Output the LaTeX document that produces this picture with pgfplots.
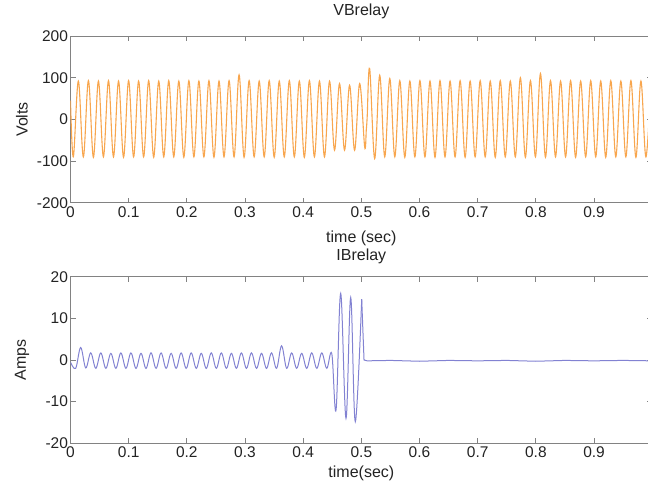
\documentclass[border=0pt]{standalone}
\usepackage{fontspec}
\setmainfont{Liberation Sans}
\usepackage{pgfplots}
\pgfplotsset{compat=1.18}
\definecolor{vorange}{RGB}{248,166,78}
\definecolor{iblue}{RGB}{130,130,210}
\definecolor{axgray}{RGB}{130,130,130}
\definecolor{txt}{RGB}{35,35,35}
\newcommand{\ticklab}{\fontsize{15.5}{17}\selectfont}
\newcommand{\lab}{\fontsize{16}{18}\selectfont}

\pgfplotsset{relay/.style={
    scale only axis, width=581.7pt, height=166.6pt,
    xmin=0, xmax=1,
    xtick={0,0.1,0.2,0.3,0.4,0.5,0.6,0.7,0.8,0.9},
    xticklabels={0,0.1,0.2,0.3,0.4,0.5,0.6,0.7,0.8,0.9},
    tick align=inside, major tick length=5pt,
    axis line style={axgray, line width=0.8pt},
    major tick style={axgray, line width=0.8pt},
    tick label style={font=\ticklab, text=txt},
    xticklabel style={yshift=0pt},
    yticklabel style={xshift=1pt},
    label style={font=\lab, text=txt},
    title style={font=\lab, text=txt, at={(0.5,1)}, anchor=base},
    ylabel style={at={(-48.5pt,0.5)}, anchor=center, rotate=0},
}}

\begin{document}
\begin{tikzpicture}[x=1pt,y=1pt]

% ---- VBrelay ----
\begin{axis}[relay, at={(70.5pt,282.3pt)}, anchor=south west,
    ymin=-200, ymax=200, ytick={-200,-100,0,100,200},
    yticklabels={-200,-100,0,100,200},
    title={VBrelay}, title style={yshift=15pt},
    xlabel={time (sec)}, xlabel style={at={(0.5,0)}, anchor=center, yshift=-36pt},
    ylabel={Volts}]
\addplot[vorange, line width=1.1pt, smooth, tension=0.6] coordinates {
(0,45)(0.0049,-90)
(0.0135,92)(0.0221,-90)(0.0308,93)(0.0394,-91)(0.0480,92)(0.0566,-90)
(0.0653,93)(0.0739,-90)(0.0826,92)(0.0912,-91)(0.0999,93)(0.1085,-90)
(0.1171,92)(0.1257,-90)(0.1344,93)(0.1430,-91)(0.1517,92)(0.1603,-90)
(0.1689,93)(0.1775,-90)(0.1862,92)(0.1948,-91)(0.2035,93)(0.2121,-90)
(0.2207,92)(0.2293,-90)(0.2380,93)(0.2466,-91)(0.2553,92)(0.2639,-90)
(0.2726,93)(0.2812,-90)(0.2898,107)(0.2984,-91)(0.3071,93)(0.3157,-90)
(0.3244,92)(0.3330,-90)(0.3416,93)(0.3502,-91)(0.3589,92)(0.3675,-90)
(0.3762,93)(0.3848,-90)(0.3934,92)(0.4020,-91)(0.4107,93)(0.4193,-90)
(0.4280,92)(0.4366,-90)(0.4453,92)(0.4539,-74)(0.4625,86)(0.4711,-74)
(0.4798,82)(0.4884,-74)(0.4971,86)(0.5057,-66)(0.5085,-25)(0.5100,5)
(0.5143,122)(0.5229,-94)(0.5316,106)(0.5402,-90)(0.5489,98)(0.5575,-90)
(0.5661,93)(0.5747,-91)(0.5834,92)(0.5920,-90)(0.6007,93)(0.6093,-90)
(0.6180,92)(0.6266,-91)(0.6352,93)(0.6438,-90)(0.6525,92)(0.6611,-90)
(0.6698,93)(0.6784,-91)(0.6870,92)(0.6956,-90)(0.7043,93)(0.7129,-90)
(0.7216,92)(0.7302,-91)(0.7388,93)(0.7474,-90)(0.7561,92)(0.7647,-90)
(0.7734,100)(0.7820,-91)(0.7907,93)(0.7993,-90)(0.8079,110)(0.8165,-91)
(0.8252,93)(0.8338,-90)(0.8425,92)(0.8511,-90)(0.8597,93)(0.8683,-91)
(0.8770,92)(0.8856,-90)(0.8943,93)(0.9029,-90)(0.9115,92)(0.9201,-91)
(0.9288,93)(0.9374,-90)(0.9461,92)(0.9547,-90)(0.9634,93)(0.9720,-91)
(0.9806,92)(0.9892,-90)(0.9979,93)
};
\end{axis}

% ---- IBrelay ----
\begin{axis}[relay, at={(70.5pt,41.7pt)}, anchor=south west,
    ymin=-20, ymax=20, ytick={-20,-10,0,10,20},
    yticklabels={-20,-10,0,10,20},
    title={IBrelay}, title style={yshift=10pt},
    xlabel={time(sec)}, xlabel style={at={(0.5,0)}, anchor=center, yshift=-30pt},
    ylabel={Amps}]
\addplot[iblue, line width=1pt, smooth, tension=0.6] coordinates {
(0,-0.5)(0.0089,-2.0)(0.0175,3.0)(0.0262,-1.9)(0.0348,1.7)(0.0435,-2.0)
(0.0521,1.7)(0.0608,-2.0)(0.0694,1.6)(0.0780,-2.0)(0.0866,1.7)(0.0953,-2.0)
(0.1039,1.7)(0.1126,-2.0)(0.1212,1.6)(0.1298,-2.0)(0.1384,1.7)(0.1471,-2.0)
(0.1557,1.7)(0.1644,-2.0)(0.1730,1.6)(0.1816,-2.0)(0.1902,1.7)(0.1989,-2.0)
(0.2075,1.7)(0.2162,-2.0)(0.2248,1.6)(0.2334,-2.0)(0.2420,1.7)(0.2507,-2.0)
(0.2593,1.7)(0.2680,-2.0)(0.2766,1.6)(0.2852,-2.0)(0.2938,1.7)(0.3025,-2.0)
(0.3111,1.7)(0.3198,-2.0)(0.3284,1.6)(0.3370,-2.0)(0.3456,1.7)(0.3543,-2.0)
(0.3629,3.4)(0.3716,-2.0)(0.3802,1.7)(0.3888,-2.0)(0.3974,1.6)(0.4061,-2.0)
(0.4147,1.7)(0.4234,-2.0)(0.4320,1.7)(0.4406,-2.0)(0.4492,1.5)
(0.4565,-12.0)(0.4645,16.0)(0.4736,-14.0)(0.4817,15.0)(0.4896,-14.8)(0.5006,14.6)
};
\addplot[iblue, line width=1pt] coordinates {
(0.5006,14.6)(0.5046,0)(0.51,-0.2)(0.55,-0.1)(0.6,-0.3)(0.65,-0.1)(0.7,-0.2)
(0.75,-0.1)(0.8,-0.3)(0.85,-0.1)(0.9,-0.2)(0.95,-0.1)(0.999,-0.2)
};
\end{axis}

\pgfresetboundingbox
\path[use as bounding box] (0,0) rectangle (648,485);
\end{tikzpicture}
\end{document}
